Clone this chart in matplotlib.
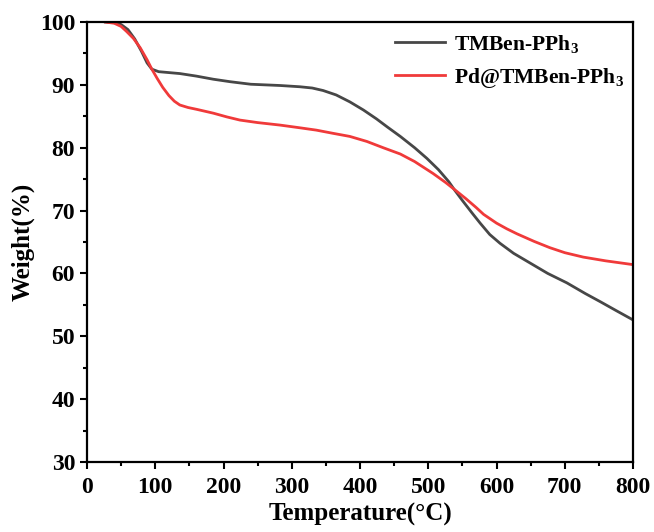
import matplotlib
matplotlib.use('Agg')
import matplotlib.pyplot as plt
from matplotlib.ticker import MultipleLocator

# TGA curves
temp_a = [27, 40, 50, 60, 70, 80, 88, 95, 105, 136, 160, 185, 210, 240, 283, 312,
          330, 346, 365, 385, 405, 424, 440, 459, 480, 498, 515, 530, 539, 550, 565,
          576, 590, 605, 625, 650, 675, 703, 730, 752, 775, 800]
weight_a = [100, 99.9, 99.6, 98.8, 97.3, 95.3, 93.5, 92.5, 92.1, 91.8, 91.4, 90.9,
            90.5, 90.1, 89.9, 89.7, 89.5, 89.1, 88.4, 87.3, 86.0, 84.6, 83.3, 81.8,
            80.0, 78.3, 76.5, 74.6, 73.2, 71.6, 69.5, 68.0, 66.2, 64.8, 63.2, 61.6,
            60.0, 58.5, 56.8, 55.5, 54.1, 52.6]

temp_b = [27, 40, 50, 58, 68, 78, 88, 95, 103, 111, 120, 128, 136, 148, 161, 185,
          205, 224, 250, 283, 310, 336, 360, 385, 410, 434, 459, 480, 507, 525, 539,
          555, 570, 581, 600, 615, 630, 655, 678, 700, 727, 760, 800]
weight_b = [100, 99.8, 99.3, 98.5, 97.4, 95.9, 94.0, 92.5, 91.0, 89.6, 88.3, 87.4,
            86.8, 86.4, 86.1, 85.5, 84.9, 84.4, 84.0, 83.6, 83.2, 82.8, 82.3, 81.8,
            81.0, 80.0, 79.0, 77.8, 75.9, 74.5, 73.3, 71.9, 70.5, 69.4, 68.0, 67.1,
            66.3, 65.1, 64.1, 63.3, 62.6, 62.0, 61.4]

labels = ['TMBen-PPh$_3$', 'Pd@TMBen-PPh$_3$']

plt.rcParams['font.family'] = ['Liberation Serif', 'DejaVu Serif']
plt.rcParams['font.weight'] = 'bold'
plt.rcParams['mathtext.fontset'] = 'custom'
plt.rcParams['mathtext.rm'] = 'Liberation Serif:bold'
plt.rcParams['mathtext.default'] = 'rm'

fig = plt.figure(figsize=(6.54, 5.32), dpi=100)
ax = fig.add_axes([0.133, 0.1316, 0.835, 0.827])

ax.plot(temp_a, weight_a, color='#474747', linewidth=2.0, label=labels[0])
ax.plot(temp_b, weight_b, color='#f03a3a', linewidth=2.0, label=labels[1])

ax.set_xlim(0, 800)
ax.set_ylim(30, 100)
ax.xaxis.set_major_locator(MultipleLocator(100))
ax.xaxis.set_minor_locator(MultipleLocator(50))
ax.yaxis.set_major_locator(MultipleLocator(10))
ax.yaxis.set_minor_locator(MultipleLocator(5))
ax.tick_params(which='major', direction='out', length=5, width=1.5, labelsize=17)
ax.tick_params(axis='x', which='major', pad=6)
ax.tick_params(which='minor', direction='out', length=3, width=1.5)
for spine in ax.spines.values():
    spine.set_linewidth(1.6)

ax.set_xlabel('Temperature(\u00b0C)', fontsize=18, fontweight='bold', labelpad=3)
ax.set_ylabel('Weight(%)', fontsize=18, fontweight='bold', labelpad=4)

ax.legend(loc='upper right', frameon=False, fontsize=15.5, handlelength=2.3,
          handletextpad=0.45, borderaxespad=0.0, labelspacing=0.5,
          bbox_to_anchor=(1.0, 0.995))

plt.savefig('out.png', dpi=100)
